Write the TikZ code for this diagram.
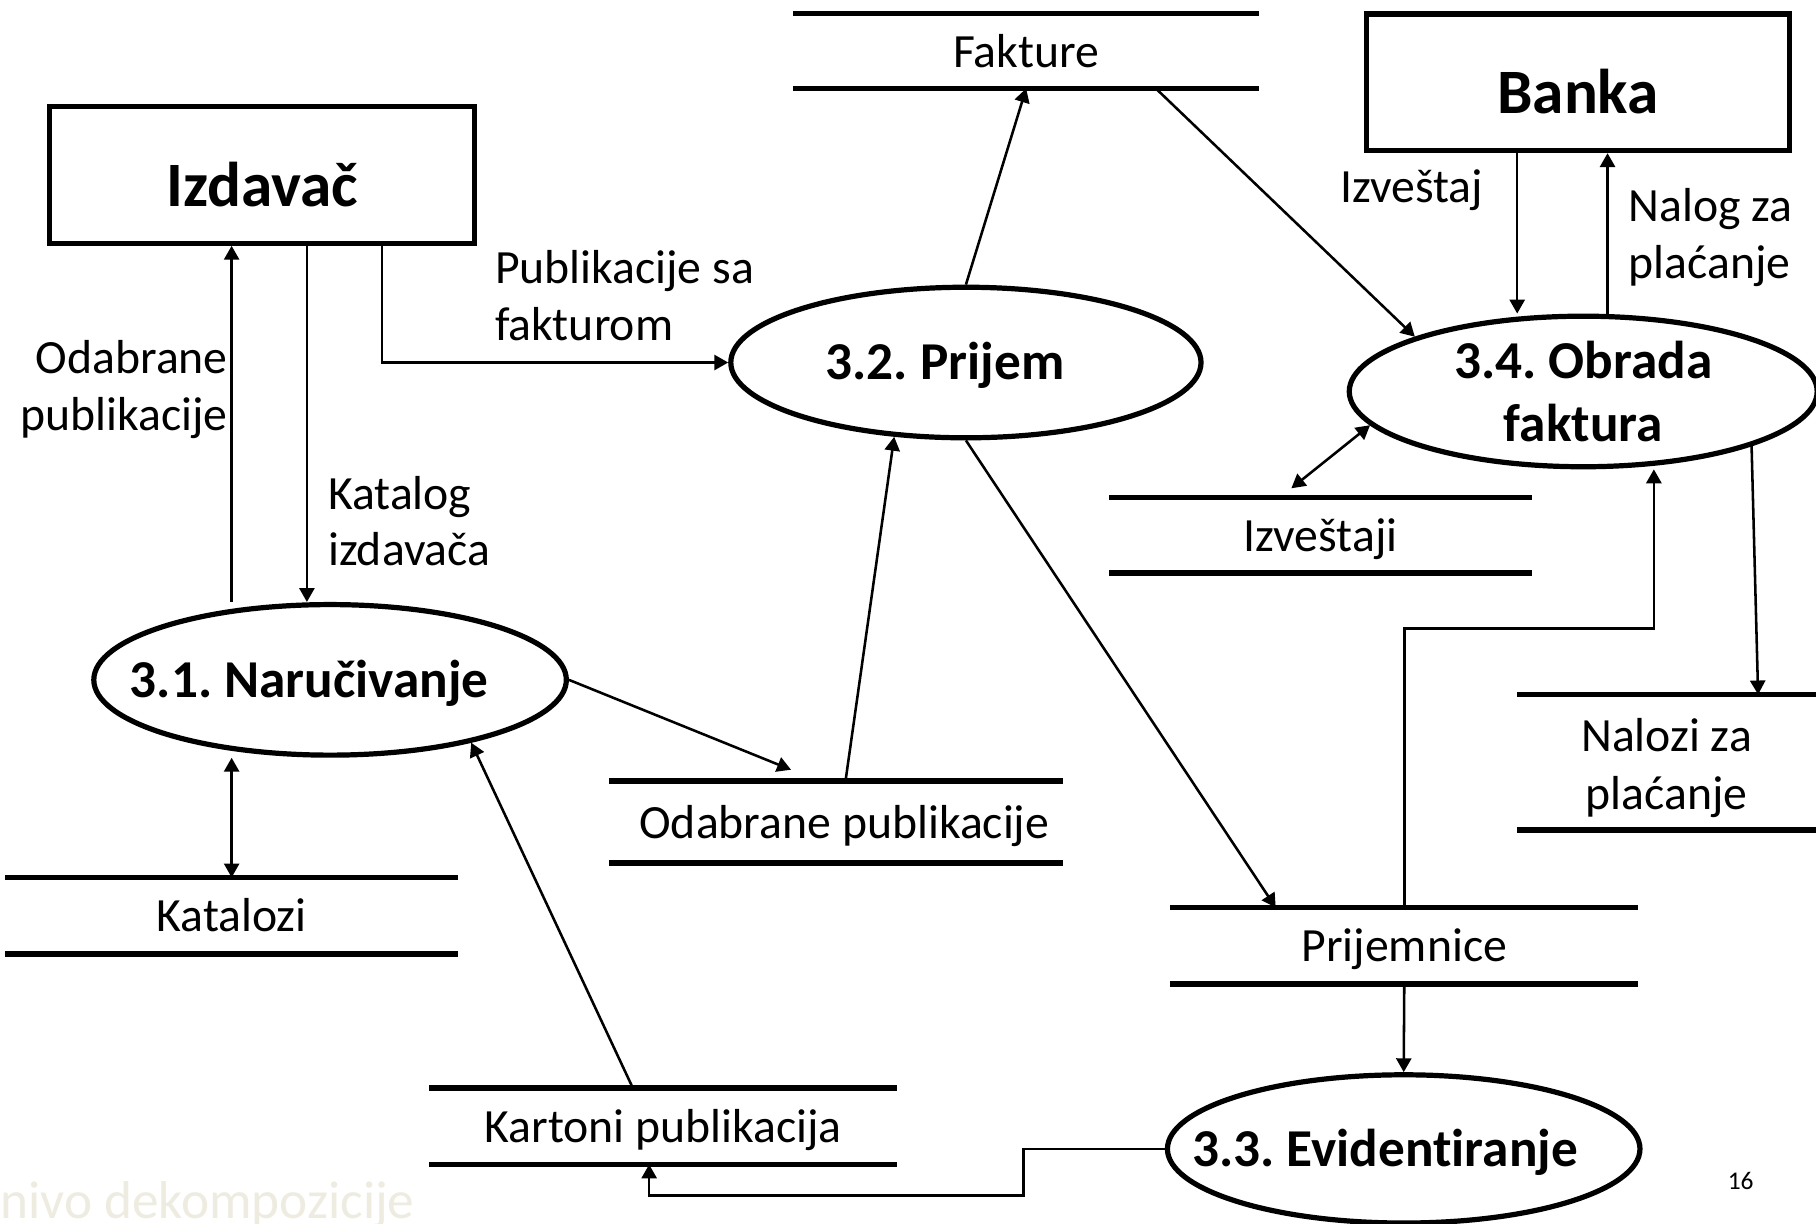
\documentclass[tikz,border=0pt]{standalone}
\usepackage{fontspec}
\setmainfont{Carlito}[Ligatures=NoCommon]
\usetikzlibrary{arrows.meta,shapes.geometric}
\definecolor{faintColor}{RGB}{238,236,225}
\frenchspacing

\begin{document}
\begin{tikzpicture}[x=0.5pt,y=-0.5pt,
  entity/.style={draw,line width=2.25pt,inner sep=0pt,text height=27pt,text depth=0pt,font=\fontsize{27.3}{32}\selectfont\bfseries},
  process/.style={ellipse,draw,line width=2.25pt,inner xsep=-30pt,inner ysep=-6pt,align=center,font=\fontsize{23}{27.5}\selectfont\bfseries},
  ptext/.style={text height=20pt,text depth=5pt},
  store/.style={inner sep=0pt,align=center,font=\fontsize{20.6}{25}\selectfont},
  stext/.style={text height=18pt,text depth=4pt},
  storeline/.style={line width=2.5pt},
  dataflow/.style={line width=1.1pt,-{Triangle[length=6pt,width=6.5pt]}},
  bothflow/.style={line width=1.1pt,{Triangle[length=6pt,width=6.5pt]}-{Triangle[length=6pt,width=6.5pt]}},
  flowtext/.style={inner sep=0pt,font=\fontsize{20.6}{24.5}\selectfont}]
\path[use as bounding box,fill=white] (0,0) rectangle (1568,1056);
\begin{scope}
\clip (0,0) rectangle (1568,1056);

% spoljni entiteti
\node[entity,minimum width=183.5pt,minimum height=59pt] (izdavac) at (226.5,151) {Izdavač};
\node[entity,minimum width=182.5pt,minimum height=59pt] (banka) at (1362.5,71) {Banka};

% procesi
\node[process,ptext,minimum width=204pt,minimum height=65pt] (narucivanje) at (285,587) {3.1. Naručivanje\hspace*{18pt}};
\node[process,ptext,minimum width=203pt,minimum height=65pt] (prijem) at (834,313) {3.2. Prijem\hspace*{18pt}};
\node[process,minimum width=202pt,minimum height=65pt] (obrada) at (1367,338) {3.4. Obrada\\faktura};
\node[process,ptext,minimum width=204pt,minimum height=64pt] (evidentiranje) at (1212,992) {3.3. Evidentiranje\hspace*{16pt}};

% skladista
\node[store,stext,minimum width=201pt,minimum height=32pt] (fakture) at (886,44) {Fakture};
\node[store,stext,minimum width=182pt,minimum height=32pt] (izvestaji) at (1140,462) {Izveštaji};
\node[store,minimum width=129pt,minimum height=58pt] (nalozi) at (1439,658) {\rule{0pt}{19.5pt}Nalozi za\\plaćanje};
\node[store,stext,minimum width=195.5pt,minimum height=35pt] (odabrane) at (722,710) {\hspace*{7pt}Odabrane publikacije};
\node[store,stext,minimum width=195pt,minimum height=32.5pt] (katalozi) at (200,790.5) {Katalozi};
\node[store,stext,minimum width=201.5pt,minimum height=32.5pt] (prijemnice) at (1212.5,816.5) {Prijemnice};
\node[store,stext,minimum width=201.5pt,minimum height=32.5pt] (kartoni) at (572.5,972.5) {Kartoni publikacija};
\foreach \s in {fakture,izvestaji,nalozi,odabrane,katalozi,prijemnice,kartoni}
  \draw[storeline] (\s.north west) -- (\s.north east) (\s.south west) -- (\s.south east);

% tokovi podataka
\draw[dataflow] (katalozi.north |- narucivanje.north) -- (katalozi.north |- izdavac.south);
\draw[dataflow] ([xshift=19.25pt]izdavac.south) -- ([xshift=19.25pt]izdavac.south |- narucivanje.north);
\draw[dataflow] ([xshift=51.75pt]izdavac.south) |- (prijem.west);
\draw[dataflow] (prijem.north) -- (fakture.south);
\draw[dataflow] ([xshift=56pt]fakture.south) -- (obrada.162);
\draw[dataflow] ([xshift=-26.25pt]banka.south) -- ([xshift=-26.25pt]banka.south |- obrada.north);
\draw[dataflow] ([xshift=12.75pt]banka.south |- obrada.north) -- ([xshift=12.75pt]banka.south);
\draw[bothflow] (obrada.189) -- ([xshift=-12.5pt,yshift=4pt]izvestaji.north);
\draw[dataflow] (obrada.342) -- ([xshift=39.5pt]nalozi.north);
\draw[dataflow] (prijemnice.north) -- ++(0,-241) -| ([xshift=30.5pt]obrada.south);
\draw[dataflow] (prijem.south) -- ([xshift=-55.5pt]prijemnice.north);
\draw[dataflow] (prijemnice.south) -- (evidentiranje.north);
\draw[dataflow] (evidentiranje.west) -- ++(-122,0) -- ++(0,40) -| ([xshift=-6pt]kartoni.south);
\draw[dataflow] ([xshift=-13pt]kartoni.north) -- (narucivanje.336);
\draw[dataflow] (narucivanje.east) -- ([xshift=-19.5pt,yshift=5pt]odabrane.north);
\draw[dataflow] ([xshift=4pt]odabrane.north) -- (prijem.226);
\draw[bothflow] (katalozi.north |- narucivanje.south) -- (katalozi.north);

% natpisi tokova
\node[flowtext,anchor=east,align=right] (lblodabrane) at (197,336) {Odabrane\\publikacije};
\node[flowtext,anchor=west,align=left] (lblkatalog) at (283,450) {Katalog\\izdavača};
\node[flowtext,anchor=west,align=left] (lblpublikacije) at (427,255) {Publikacije sa\\fakturom};
\node[flowtext,anchor=east] (lblizvestaj) at (1281,164) {Izveštaj};
\node[flowtext,anchor=west,align=left] (lblnalog) at (1406,205) {Nalog za\\plaćanje};

% podnaslov i broj slajda
\node[anchor=base west,inner sep=0pt,text=faintColor,font=\fontsize{23}{27}\selectfont] (podnaslov) at (0,1052) {nivo dekompozicije};
\node[inner sep=0pt,font=\fontsize{11}{13}\selectfont] (brslajda) at (1503,1020) {16};
\end{scope}
\end{tikzpicture}
\end{document}
